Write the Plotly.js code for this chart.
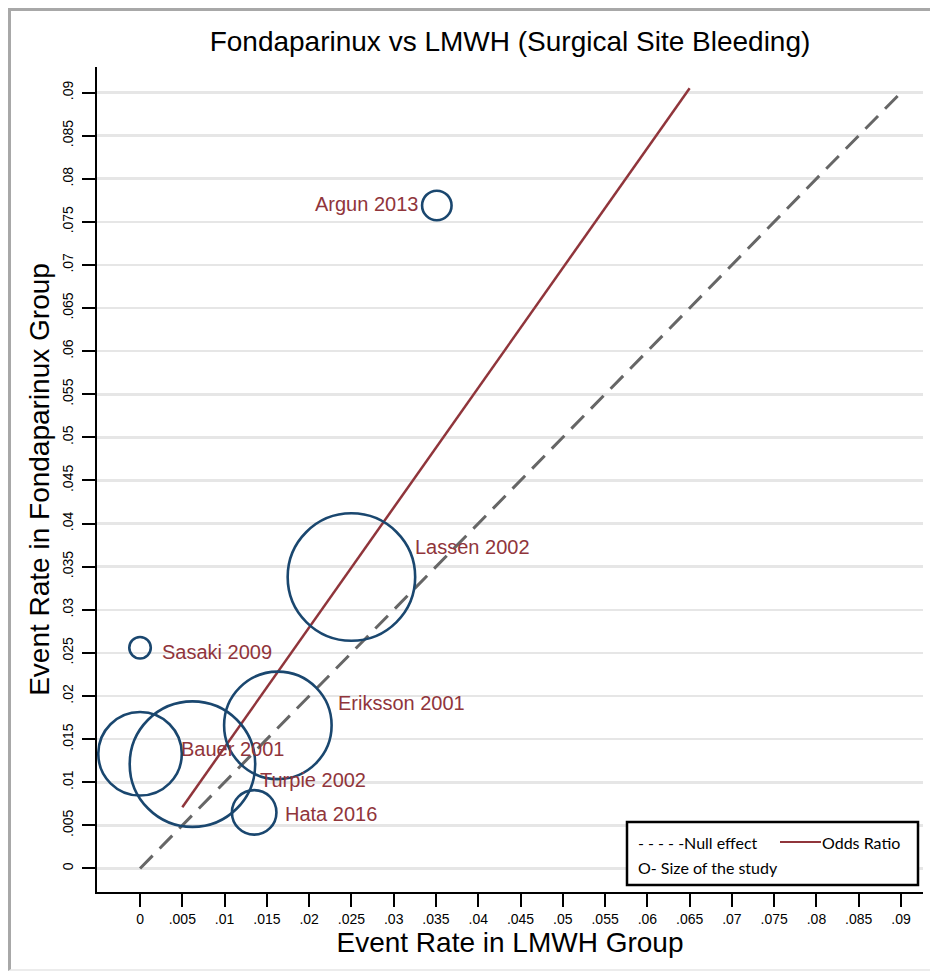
<!DOCTYPE html>
<html>
<head>
<meta charset="utf-8">
<script src="https://cdn.plot.ly/plotly-3.0.1.min.js"></script>
<style>
  html, body { margin: 0; padding: 0; background: #fff; }
  #wrap { position: relative; width: 930px; height: 975px; }
  #chart { position: absolute; left: 0; top: 0; width: 930px; height: 975px; }
  #frame { position: absolute; left: 8px; top: 8px; width: 940px; height: 963px;
           border-left: 3px solid #a8a8a8; border-top: 3px solid #a8a8a8;
           border-bottom: 2px solid #ececec; pointer-events: none; box-sizing: border-box; }
</style>
</head>
<body>
<div id="wrap">
  <div id="chart"></div>
  <div id="frame"></div>
</div>
<script>
// ---- data ----
const studies     = ['Argun 2013', 'Lassen 2002', 'Sasaki 2009', 'Eriksson 2001', 'Bauer 2001', 'Turpie 2002', 'Hata 2016'];
const lmwhRate    = [0.0351, 0.0250, 0.0000, 0.0163, 0.0000, 0.0062, 0.0135];
const fondaRate   = [0.0769, 0.0338, 0.0256, 0.0166, 0.0133, 0.0121, 0.0065];
const studyWeight = [870, 16256, 462, 11556, 6972, 15750, 1980];   // relative study size (bubble area)

const nullX = [0, 0.09];
const nullY = [0, 0.09];
const orX   = [0.005, 0.065];
const orY   = [0.0071, 0.0905];

const tickLabels = ['0', '.005', '.01', '.015', '.02', '.025', '.03', '.035', '.04', '.045',
                    '.05', '.055', '.06', '.065', '.07', '.075', '.08', '.085', '.09'];
const tickVals = tickLabels.map(s => parseFloat(s));

// ---- styles ----
const NAVY = '#1a476f';
const MAROON = '#90353b';
const labelOffsets = [   // [xshift, yshift, anchor]
  [-17, 1, 'right'],
  [62, 30, 'left'],
  [20, -4, 'left'],
  [58, 22, 'left'],
  [39, 5, 'left'],
  [66, -16, 'left'],
  [29, -2, 'left']
];

const W = 930, H = 975;
const M = { l: 97, r: 7, t: 67, b: 83 };
const pw = W - M.l - M.r, ph = H - M.t - M.b;
const px2paperX = p => (p - M.l) / pw;
const px2paperY = p => (H - M.b - p) / ph;

const traces = [
  {
    x: nullX, y: nullY, mode: 'lines', type: 'scatter',
    line: { color: '#666666', width: 3, dash: '18px,10px' }, hoverinfo: 'skip'
  },
  {
    x: orX, y: orY, mode: 'lines', type: 'scatter',
    line: { color: MAROON, width: 2.5 }, hoverinfo: 'skip'
  },
  {
    x: lmwhRate, y: fondaRate, mode: 'markers', type: 'scatter', text: studies,
    marker: { size: studyWeight, sizemode: 'area', sizeref: 2, opacity: 1, color: 'rgba(0,0,0,0)',
              line: { color: NAVY, width: 2.6 } }
  }
];

const annotations = studies.map((s, i) => ({
  x: lmwhRate[i], y: fondaRate[i], xref: 'x', yref: 'y', text: s, showarrow: false,
  xanchor: labelOffsets[i][2], yanchor: 'middle',
  xshift: labelOffsets[i][0], yshift: labelOffsets[i][1],
  font: { family: 'Liberation Sans, Arial, sans-serif', size: 20, color: MAROON }
}));

// legend (drawn manually like the original)
const legFont = { family: 'Lato, Carlito, sans-serif', size: 16, color: '#000' };
annotations.push(
  { xref: 'paper', yref: 'paper', x: px2paperX(636), y: px2paperY(842), xanchor: 'left', yanchor: 'middle',
    text: '- - - - -Null effect', showarrow: false, font: legFont },
  { xref: 'paper', yref: 'paper', x: px2paperX(820), y: px2paperY(842), xanchor: 'left', yanchor: 'middle',
    text: 'Odds Ratio', showarrow: false, font: legFont },
  { xref: 'paper', yref: 'paper', x: px2paperX(636), y: px2paperY(867), xanchor: 'left', yanchor: 'middle',
    text: 'O- Size of the study', showarrow: false, font: legFont }
);

const shapes = [
  { type: 'rect', xref: 'paper', yref: 'paper',
    x0: px2paperX(627), x1: px2paperX(918), y0: px2paperY(885), y1: px2paperY(822),
    line: { color: '#000', width: 2.5 }, fillcolor: '#fff', layer: 'above' },
  { type: 'line', xref: 'paper', yref: 'paper',
    x0: px2paperX(780), x1: px2paperX(821), y0: px2paperY(842), y1: px2paperY(842),
    line: { color: MAROON, width: 2 }, layer: 'above' }
];

const axisFont = { family: 'Liberation Sans, Arial, sans-serif', size: 14, color: '#000' };
const titleFont = { family: 'Liberation Sans, Arial, sans-serif', size: 28, color: '#000' };

const layout = {
  width: W, height: H,
  margin: M,
  paper_bgcolor: '#fff', plot_bgcolor: '#fff',
  showlegend: false,
  title: { text: 'Fondaparinux vs LMWH (Surgical Site Bleeding)', font: titleFont,
           xref: 'paper', x: 0.5, xanchor: 'center', yref: 'container', y: 1 - 41 / H, yanchor: 'middle' },
  xaxis: {
    range: [-0.00509, 0.0926], tickvals: tickVals, ticktext: tickLabels,
    ticks: 'outside', ticklen: 13, tickwidth: 2, tickcolor: '#000',
    showline: true, linewidth: 2, linecolor: '#000', mirror: false,
    showgrid: false, zeroline: false, tickfont: axisFont,
    title: { text: 'Event Rate in LMWH Group', font: titleFont, standoff: 4 }
  },
  yaxis: {
    range: [-0.00273, 0.09296], tickvals: tickVals, ticktext: tickLabels,
    ticks: 'outside', ticklen: 13, tickwidth: 2, tickcolor: '#000', tickangle: -90,
    ticklabelstandoff: 3,
    showline: true, linewidth: 2, linecolor: '#000',
    showgrid: true, gridcolor: '#e6e6e6', gridwidth: 2.5, zeroline: false, tickfont: axisFont,
    title: { text: 'Event Rate in Fondaparinux Group', font: titleFont, standoff: 3 }
  },
  annotations: annotations,
  shapes: shapes
};

Plotly.newPlot('chart', traces, layout, { displayModeBar: false, staticPlot: true });
</script>
</body>
</html>
